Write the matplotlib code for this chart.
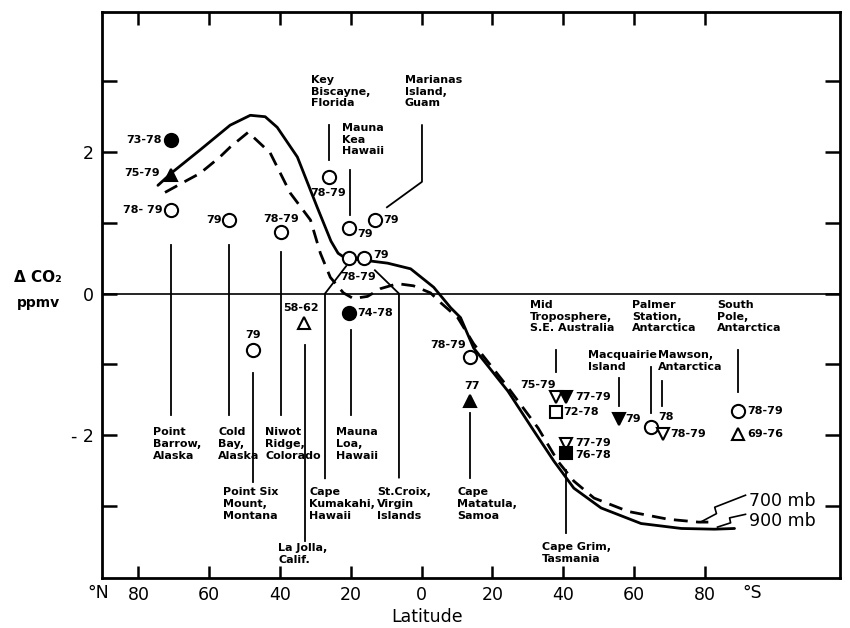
import matplotlib
matplotlib.use("Agg")
import matplotlib.pyplot as plt
import numpy as np

# latitude: north negative, south positive
lat_900 = [-74.5, -70.3, -62.6, -54.1, -48.4, -44.2, -40.8, -35.1, -29.5, -25.6,
           -23.6, -21.5, -16.0, -9.6, -3.1, 3.4, 8.2, 11.0, 14.7, 24.4, 31.7, 37.4,
           43.0, 50.7, 62.0, 73.4, 82.7, 88.4]
co2_900 = [1.53, 1.72, 2.03, 2.38, 2.52, 2.50, 2.35, 1.93, 1.22, 0.74,
           0.57, 0.50, 0.47, 0.43, 0.35, 0.09, -0.20, -0.34, -0.77, -1.38, -1.94, -2.37,
           -2.75, -3.03, -3.25, -3.32, -3.33, -3.32]

lat_700 = [-72.5, -66.3, -62.6, -57.0, -54.1, -49.0, -42.8, -37.1, -31.4, -28.6,
           -25.8, -22.1, -19.3, -15.3, -11.6, -6.8, -2.3, 2.5, 5.4, 10.2, 14.7,
           24.0, 32.9, 38.5, 43.0, 48.7, 58.4, 69.7, 78.2, 81.0]
co2_700 = [1.43, 1.60, 1.70, 1.93, 2.07, 2.28, 1.99, 1.42, 1.04, 0.57,
           0.23, 0.01, -0.07, -0.04, 0.07, 0.14, 0.11, 0.01, -0.13, -0.34, -0.71,
           -1.30, -1.90, -2.37, -2.65, -2.89, -3.08, -3.19, -3.23, -3.23]

# station observations
pt_lat = [-70.8, -70.8, -70.8, -54.4, -39.7, -47.6, -33.3, -26.1, -20.4, -13.1,
          -20.4, -16.2, -20.4, 13.6, 13.6, 38.1, 40.7, 38.1, 40.8, 40.8,
          55.8, 64.8, 68.1, 89.5, 89.5]
pt_co2 = [2.17, 1.67, 1.18, 1.04, 0.87, -0.80, -0.42, 1.65, 0.92, 1.04,
          0.50, 0.51, -0.28, -0.90, -1.52, -1.46, -1.46, -1.68, -2.12, -2.26,
          -1.77, -1.89, -1.99, -1.66, -1.99]
pt_years = ["73-78", "75-79", "78- 79", "79", "78-79", "79", "58-62", "78-79", "79", "79",
            "78-79", "79", "74-78", "78-79", "77", "75-79", "77-79", "72-78", "77-79", "76-78",
            "79", "78", "78-79", "78-79", "69-76"]
pt_marker = ["o", "^", "o", "o", "o", "o", "^", "o", "o", "o",
             "o", "o", "o", "o", "^", "v", "v", "s", "v", "s",
             "v", "o", "v", "o", "^"]
pt_filled = [1, 1, 0, 0, 0, 0, 0, 0, 0, 0,
             0, 0, 1, 0, 1, 0, 1, 0, 0, 1,
             1, 0, 0, 0, 0]
# year label placement: (dx, dy, ha)
yr_pos = [(-2.7, 0, "right"), (-3.2, 0.03, "right"), (-2.5, 0, "right"), (-2.0, 0, "right"),
          (0, 0.19, "center"), (0, 0.22, "center"), (-0.9, 0.22, "center"), (-0.3, -0.23, "center"),
          (2.2, -0.08, "left"), (2.2, 0, "left"), (2.5, -0.27, "center"), (2.4, 0.04, "left"),
          (2.3, 0, "left"), (-1.2, 0.18, "right"), (0.7, 0.21, "center"), (-5.3, 0.17, "center"),
          (2.6, 0, "left"), (2.0, 0, "left"), (2.5, 0.01, "left"), (2.5, -0.02, "left"),
          (1.7, 0, "left"), (2.0, 0.15, "left"), (2.1, 0, "left"), (2.4, 0, "left"), (2.4, 0, "left")]

stations = ["Point\nBarrow,\nAlaska", "Cold\nBay,\nAlaska", "Niwot\nRidge,\nColorado",
            "Point Six\nMount,\nMontana", "La Jolla,\nCalif.", "Cape\nKumakahi,\nHawaii",
            "Mauna\nLoa,\nHawaii", "St.Croix,\nVirgin\nIslands", "Cape\nMatatula,\nSamoa",
            "Key\nBiscayne,\nFlorida", "Mauna\nKea\nHawaii", "Marianas\nIsland,\nGuam",
            "Mid\nTroposphere,\nS.E. Australia", "Palmer\nStation,\nAntarctica",
            "Macquairie\nIsland", "Mawson,\nAntarctica", "South\nPole,\nAntarctica",
            "Cape Grim,\nTasmania"]
st_pos = [(-75.9, -1.89), (-57.5, -1.89), (-44.2, -1.89), (-56.1, -2.74), (-40.5, -3.53),
          (-31.8, -2.74), (-24.2, -1.89), (-12.6, -2.74), (10.0, -2.74), (-31.2, 3.09),
          (-22.5, 2.41), (-4.7, 3.09), (30.6, -0.09), (59.4, -0.09), (47.1, -0.80),
          (66.8, -0.80), (83.5, -0.09), (34.0, -3.51)]
leaders = [[(-70.8, 0.69), (-70.8, -1.72)], [(-54.4, 0.69), (-54.4, -1.72)],
           [(-39.7, 0.59), (-39.7, -1.72)], [(-47.6, -1.12), (-47.6, -2.67)],
           [(-32.9, -0.73), (-32.9, -3.49)], [(-27.3, -2.61), (-27.3, 0), (-21.3, 0.39)],
           [(-20.0, -0.52), (-20.0, -1.72)], [(-6.4, -2.60), (-6.4, 0), (-13.2, 0.33)],
           [(13.6, -1.69), (13.6, -2.60)], [(-26.1, 2.38), (-26.1, 1.89)],
           [(-20.2, 1.75), (-20.2, 1.11)], [(-9.8, 1.22), (0.1, 1.58), (0.1, 2.38)],
           [(38.0, -0.80), (38.0, -1.11)], [(64.8, -1.04), (64.8, -1.69)],
           [(55.8, -1.20), (55.8, -1.59)], [(67.9, -1.23), (67.9, -1.59)],
           [(89.5, -0.80), (89.5, -1.39)], [(40.8, -2.50), (40.8, -3.39)]]

xticks = [-80, -60, -40, -20, 0, 20, 40, 60, 80]
xticklabels = ["80", "60", "40", "20", "0", "20", "40", "60", "80"]

plt.rcParams['font.family'] = ['DejaVu Sans']
fig = plt.figure(figsize=(8.5, 6.28), dpi=100)
ax = fig.add_axes([102 / 850, 1 - 578 / 628, 738 / 850, 566 / 628])
ax.set_xlim(-90.3, 118.2)
ax.set_ylim(-4.02, 3.98)

ax.axhline(0, color="black", lw=1.2, zorder=1)
ax.plot(lat_900, co2_900, color="black", lw=2.0, zorder=2, solid_capstyle="round",
        solid_joinstyle="round")
ax.plot(lat_700, co2_700, color="black", lw=2.0, ls=(0, (5, 3)), zorder=2)

# curve labels with zigzag leaders
ax.plot([78.8, 83.3, 82.8, 91.5], [-3.23, -3.11, -3.02, -2.85], color="black", lw=1.2)
ax.plot([83.6, 87.3, 87.0, 91.5], [-3.30, -3.24, -3.17, -3.12], color="black", lw=1.2)
ax.text(92.5, -2.93, "700 mb", fontsize=12.5, va="center", ha="left")
ax.text(92.5, -3.21, "900 mb", fontsize=12.5, va="center", ha="left")

for seg in leaders:
    xs, ys = zip(*seg)
    ax.plot(xs, ys, color="black", lw=1.3, zorder=1)

for name, (x, y) in zip(stations, st_pos):
    ax.text(x, y, name, fontsize=8, ha="left", va="top", linespacing=1.2,
            fontweight="bold", clip_on=False)

for x, y, yr, m, f, (dx, dy, ha) in zip(pt_lat, pt_co2, pt_years, pt_marker, pt_filled, yr_pos):
    ms = 9.5 if m == "o" else 8.5
    ax.plot(x, y, marker=m, ms=ms, mfc="black" if f else "white", mec="black",
            mew=1.5, ls="none", zorder=4)
    ax.text(x + dx, y + dy, yr, fontsize=8, ha=ha, va="center", fontweight="bold", zorder=5)

ax.set_xticks(xticks)
ax.set_xticklabels(xticklabels, fontsize=12.5)
ax.set_yticks([-3, -2, -1, 0, 1, 2, 3])
ax.set_yticklabels(["", "- 2", "", "0", "", "2", ""], fontsize=12.5)
ax.tick_params(axis="x", direction="in", length=9, width=1.8, top=True, pad=6)
ax.tick_params(axis="y", direction="in", length=11, width=1.8, right=True, pad=6)
for sp in ax.spines.values():
    sp.set_linewidth(2)

ax.text(-91.5, -4.1, "°N", fontsize=12.5, ha="center", va="top", clip_on=False)
ax.text(93.5, -4.1, "°S", fontsize=12.5, ha="center", va="top", clip_on=False)

fig.text(427 / 850, 1 - 617 / 628, "Latitude", fontsize=12.5, ha="center", va="center")
fig.text(38 / 850, 1 - 277 / 628, "Δ CO₂", fontsize=11, ha="center", va="center",
         fontweight="bold")
fig.text(38 / 850, 1 - 303 / 628, "ppmv", fontsize=10, ha="center", va="center",
         fontweight="bold")

fig.savefig("out.png", dpi=100)
